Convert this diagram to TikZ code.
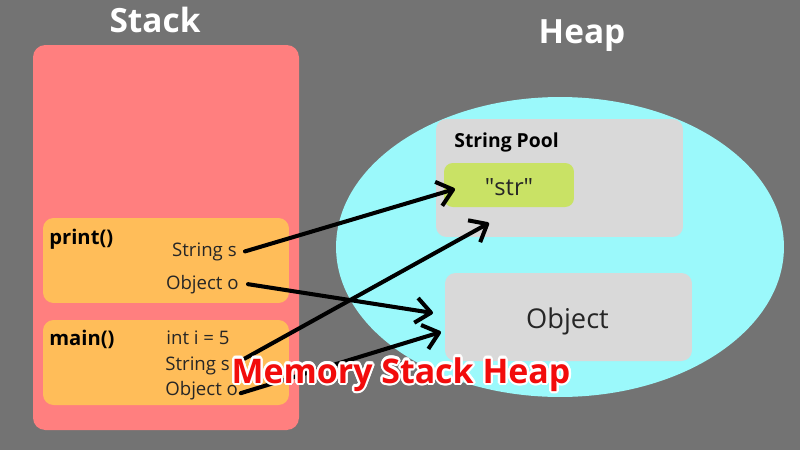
\documentclass[tikz,border=0pt]{standalone}
\usepackage{fontspec}
\setmainfont{Open Sans}
\usepackage{contour}
\contourlength{1.3pt}
\usetikzlibrary{arrows.meta}

\definecolor{bggray}{HTML}{737373}
\definecolor{stackred}{HTML}{FF7F7F}
\definecolor{frameorange}{HTML}{FFBD59}
\definecolor{heapcyan}{HTML}{9BF9FB}
\definecolor{poolgray}{HTML}{D9D9D9}
\definecolor{strgreen}{HTML}{C9E265}
\definecolor{captionred}{HTML}{F20C0C}

% straight double quote, past the TeX ligature mapping
\newcommand{\sq}{\XeTeXglyph\XeTeXcharglyph"0022\relax}

\tikzset{
  title/.style={text=white, font=\bfseries\fontsize{19}{22}\selectfont, anchor=base},
  frame/.style={fill=frameorange, rounded corners=6pt, minimum width=4.92cm, minimum height=1.7cm},
  heapbox/.style={fill=poolgray, rounded corners=6pt},
  fname/.style={font=\bfseries\fontsize{11.5}{13}\selectfont, anchor=base west, inner sep=0pt},
  var/.style={font=\fontsize{10.6}{12}\selectfont, text=black!85, inner sep=0pt},
  ref/.style={line width=2.3pt, line cap=round, -{Straight Barb[length=3mm, width=5mm, line join=round]}}
}

\begin{document}
\begin{tikzpicture}[x=0.02cm, y=-0.02cm]
  \fill[bggray] (0,0) rectangle (800,450);

  % stack side
  \fill[stackred, rounded corners=7pt] (33,45) rectangle (299,430);
  \node[title] (stacktitle) at (155,32) {Stack};
  \node[frame] (printf) at (166,260.5) {};
  \node[frame] (mainf) at (166,362.5) {};
  \node[fname] (printname) at (49,244) {print()};
  \node[fname] (mainname) at (49,345) {main()};
  \node[var, anchor=base east] (ps) at (237,256) {String s};
  \node[var, anchor=base east] (po) at (239,289) {Object o};
  \node[var, anchor=base west] (mi) at (166,344) {int i = 5};
  \node[var, anchor=base west] (ms) at (165,370) {String s};
  \node[var, anchor=base west] (mo) at (165,395) {Object o};

  % heap side
  \fill[heapcyan] (560,247) ellipse [x radius=4.48cm, y radius=3cm];
  \node[title] (heaptitle) at (582,43) {Heap};
  \node[heapbox, minimum width=4.94cm, minimum height=2.36cm] (pool) at (559.5,178) {};
  \node[font=\bfseries\fontsize{11}{13}\selectfont, anchor=base west, inner sep=0pt] (pooltitle) at (454,147) {String Pool};
  \node[fill=strgreen, rounded corners=5pt, minimum width=2.6cm, minimum height=0.88cm] (str) at (509,185) {};
  \node[font=\fontsize{13.5}{15}\selectfont, text=black!85, anchor=base] (strtext) at (509,195) {\sq str\sq};
  \node[heapbox, minimum width=4.94cm, minimum height=1.76cm] (obj) at (568.5,317) {};
  \node[font=\fontsize{15.5}{18}\selectfont, text=black!85, anchor=base] (objtext) at (567.5,328) {Object};

  % references
  \coordinate (tipstr) at (455,189);
  \coordinate (tipobj) at (433,313);
  \coordinate (tippool) at (489,223);
  \coordinate (tipobjb) at (441,332);
  \draw[ref] ([xshift=0.16cm]ps.east) -- (tipstr);
  \draw[ref] ([xshift=0.18cm]po.east) -- (tipobj);
  \draw[ref] ([xshift=0.08cm, yshift=0.02cm]ms.east) -- (tippool);
  \draw[ref] ([xshift=0.05cm, yshift=-0.06cm]mo.east) -- (tipobjb);

  \node[text=captionred, font=\bfseries\fontsize{19.3}{23}\selectfont, anchor=base] (caption) at (401,383) {\contour{white}{Memory Stack Heap}};
\end{tikzpicture}
\end{document}
